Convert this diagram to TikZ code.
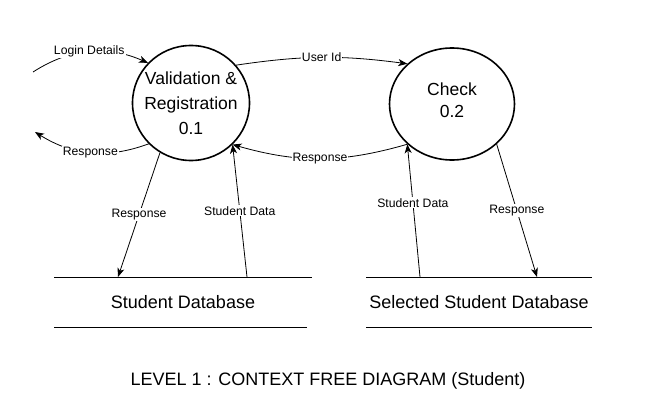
\documentclass[tikz,border=0pt]{standalone}
\usepackage{fontspec}
\setmainfont{Liberation Sans}
\usetikzlibrary{arrows.meta,shapes.geometric}

\begin{document}
\begin{tikzpicture}[x=1pt,y=-1pt,
        proc/.style={draw, ellipse, line width=1.6pt, inner sep=0pt},
        proctext/.style={align=center, inner sep=0pt, font=\fontsize{17.5}{#1}\selectfont},
        store/.style={minimum height=50pt, inner sep=0pt, outer sep=0pt, font=\fontsize{18}{21}\selectfont},
        flow/.style={-{Stealth[length=9pt,width=7pt,inset=2.5pt]}, line width=0.8pt},
        lbl/.style={fill=white, inner sep=1pt, font=\fontsize{12.2}{14}\selectfont}]
        \useasboundingbox (0,0) rectangle (658,404);

        % Processes
        \node[proc, minimum width=117pt, minimum height=115pt,
              label={[proctext=25]center:{Validation \&\\Registration\\0.1}}] (valreg) at (191,103) {};
        \node[proc, minimum width=125pt, minimum height=112pt,
              label={[proctext=22, yshift=4pt]center:{Check\\0.2}}] (check) at (452,104) {};

        % Data stores
        \node[store, minimum width=258pt] (studdb) at (183,302) {Student Database};
        \draw[line width=0.9pt] (studdb.north west) -- (studdb.north east);
        \draw[line width=0.9pt] (studdb.south west) -- ([xshift=-5pt]studdb.south east);

        \node[store, minimum width=226pt] (seldb) at (479,302) {Selected Student Database};
        \draw[line width=0.9pt] (seldb.north west) -- (seldb.north east);
        \draw[line width=0.9pt] (seldb.south west) -- (seldb.south east);

        % Outside ends
        \coordinate (login) at (33,72);
        \coordinate (reply) at (35,132);

        % Flows
        \draw[flow] (login) to[bend left=28] node[lbl] {Login Details} (valreg.137);
        \draw[flow] (valreg.224) to[bend left=26] node[lbl] {Response} (reply);
        \draw[flow] (valreg.40) to[bend left=8] node[lbl] {User Id} (check.138);
        \draw[flow] (check.222) to[bend left=16] node[lbl] {Response} (valreg.315);
        \draw[flow] (valreg.238) -- node[lbl] {Response} ([xshift=64pt]studdb.north west);
        \draw[flow] ([xshift=193pt]studdb.north west) -- node[lbl] {Student Data} (valreg.315);
        \draw[flow] ([xshift=54pt]seldb.north west) -- node[lbl, pos=0.56] {Student Data} (check.222);
        \draw[flow] (check.318) -- node[lbl] {Response} ([xshift=171pt]seldb.north west);

        % Title
        \node[font=\fontsize{18}{21}\selectfont] (title) at (328,381) {LEVEL 1 : CONTEXT FREE DIAGRAM (Student)};
\end{tikzpicture}
\end{document}
